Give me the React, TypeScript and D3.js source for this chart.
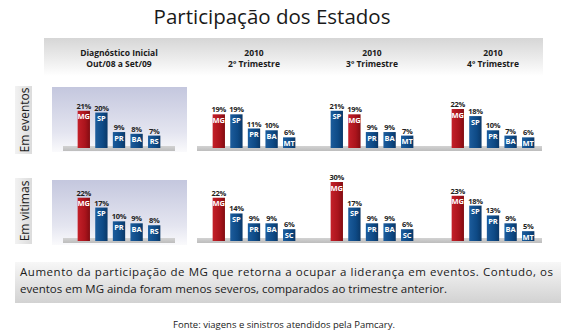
import React from "react";
import * as d3 from "d3";

const title = "Participação dos Estados";
const columnHeaders = [
  ["Diagnóstico Inicial", "Out/08 a Set/09"],
  ["2010", "2º Trimestre"],
  ["2010", "3º Trimestre"],
  ["2010", "4º Trimestre"],
];
const rowLabels = ["Em eventos", "Em vitimas"];

const eventosStates = [
  ["MG", "SP", "PR", "BA", "RS"],
  ["MG", "SP", "PR", "BA", "MT"],
  ["SP", "MG", "PR", "BA", "MT"],
  ["MG", "SP", "PR", "BA", "MT"],
];
const eventosValues = [
  [21, 20, 9, 8, 7],
  [19, 19, 11, 10, 6],
  [21, 19, 9, 9, 7],
  [22, 18, 10, 7, 6],
];
const vitimasStates = [
  ["MG", "SP", "PR", "BA", "RS"],
  ["MG", "SP", "PR", "BA", "SC"],
  ["MG", "SP", "PR", "BA", "SC"],
  ["MG", "SP", "PR", "BA", "MT"],
];
const vitimasValues = [
  [22, 17, 10, 9, 8],
  [22, 14, 9, 9, 6],
  [30, 17, 9, 9, 6],
  [23, 18, 13, 9, 5],
];
const highlightState = "MG";
const noteLines = [
  "Aumento da participação de MG que retorna a ocupar a liderança em eventos. Contudo, os",
  "eventos em MG ainda foram menos severos, comparados ao trimestre anterior.",
];
const sourceText = "Fonte: viagens e sinistros atendidos pela Pamcary.";

const W = 567;
const H = 336;
const FONT = "'Open Sans', 'Noto Sans', sans-serif";

const panelRanges: [number, number][] = [
  [75, 163],
  [210, 298],
  [328, 416],
  [449, 537],
];
const rows = [
  { states: eventosStates, values: eventosValues, base: 148, top: 109, floorY: 146, boxY: 87, boxH: 65, sideY: 86, sideH: 68, label: rowLabels[0] },
  { states: vitimasStates, values: vitimasValues, base: 241, top: 182, floorY: 238, boxY: 180, boxH: 65, sideY: 178, sideH: 66, label: rowLabels[1] },
];

export default function App() {
  return (
    <svg
      width={W}
      height={H}
      style={{ position: "absolute", left: 0, top: 0, background: "#fff" }}
      fontFamily={FONT}
    >
      <defs>
        <linearGradient id="hdr" x1="0" y1="0" x2="0" y2="1">
          <stop offset="0" stopColor="#d6d6d6" />
          <stop offset="0.55" stopColor="#ececec" />
          <stop offset="1" stopColor="#ffffff" />
        </linearGradient>
        <linearGradient id="lav" x1="0" y1="0" x2="0" y2="1">
          <stop offset="0" stopColor="#c4c7de" />
          <stop offset="0.7" stopColor="#e4e5f0" />
          <stop offset="1" stopColor="#fafafc" />
        </linearGradient>
        <linearGradient id="side" x1="0" y1="0" x2="1" y2="0">
          <stop offset="0" stopColor="#f2f2f2" />
          <stop offset="1" stopColor="#dcdcdc" />
        </linearGradient>
        <linearGradient id="note" x1="0" y1="0" x2="0" y2="1">
          <stop offset="0" stopColor="#f7f7f7" />
          <stop offset="1" stopColor="#d2d2d2" />
        </linearGradient>
        <linearGradient id="floor" x1="0" y1="0" x2="0" y2="1">
          <stop offset="0" stopColor="#d2d2d2" />
          <stop offset="1" stopColor="#bdbdbd" />
        </linearGradient>
        <linearGradient id="red" x1="0" y1="0" x2="1" y2="0">
          <stop offset="0" stopColor="#c42029" />
          <stop offset="0.6" stopColor="#aa141c" />
          <stop offset="1" stopColor="#820c12" />
        </linearGradient>
        <linearGradient id="blue" x1="0" y1="0" x2="1" y2="0">
          <stop offset="0" stopColor="#1c5c9c" />
          <stop offset="0.6" stopColor="#0e4a86" />
          <stop offset="1" stopColor="#0a3868" />
        </linearGradient>
      </defs>

      <text x={272} y={24} textAnchor="middle" fontSize={20.5} fill="#1a1a1a">
        {title}
      </text>

      <rect x={44} y={38} width={499} height={38} fill="url(#hdr)" />
      {columnHeaders.map((lines, i) => {
        const cx = (panelRanges[i][0] + panelRanges[i][1]) / 2;
        return (
          <g key={i}>
            <text x={cx} y={56} textAnchor="middle" fontSize={8.5} fontWeight="bold" fill="#1a1a1a">
              {lines[0]}
            </text>
            <text x={cx} y={67} textAnchor="middle" fontSize={8.5} fontWeight="bold" fill="#1a1a1a">
              {lines[1]}
            </text>
          </g>
        );
      })}

      {rows.map((row, ri) => {
        const maxV = d3.max(row.values.flat()) as number;
        const y = d3.scaleLinear().domain([0, maxV]).range([row.base, row.top]);
        return (
          <g key={ri}>
            <rect x={15} y={row.sideY} width={17} height={row.sideH} fill="url(#side)" />
            <text
              transform={`translate(28.5,${row.sideY + row.sideH / 2}) rotate(-90)`}
              textAnchor="middle"
              fontSize={12}
              fill="#1a1a1a"
            >
              {row.label}
            </text>
            <rect x={52} y={row.boxY} width={135} height={row.boxH} fill="url(#lav)" />
            <rect x={63} y={row.floorY} width={112} height={5} fill="url(#floor)" />
            <rect x={197} y={row.floorY} width={345} height={5} fill="url(#floor)" />
            {row.values.map((vals, pi) => {
              const x = d3
                .scaleBand<number>()
                .domain(d3.range(vals.length))
                .range(panelRanges[pi])
                .paddingInner(0.3)
                .paddingOuter(0.15);
              return (
                <g key={pi}>
                  {vals.map((v, k) => {
                    const st = row.states[pi][k];
                    const bx = x(k) as number;
                    const bw = x.bandwidth();
                    const top = y(v);
                    return (
                      <g key={k}>
                        <rect
                          x={bx}
                          y={top}
                          width={bw}
                          height={y(0) - top}
                          fill={st === highlightState ? "url(#red)" : "url(#blue)"}
                        />
                        <text x={bx + bw / 2} y={top + 8.5} textAnchor="middle" fontSize={7.5} fontWeight="bold" fill="#fff">
                          {st}
                        </text>
                        <text x={bx + bw / 2} y={top - 2} textAnchor="middle" fontSize={7.5} fontWeight="bold" fill="#222" letterSpacing={-0.3}>
                          {`${v}%`}
                        </text>
                      </g>
                    );
                  })}
                </g>
              );
            })}
          </g>
        );
      })}

      <rect x={15} y={262} width={546} height={41} fill="url(#note)" />
      <text x={20} y={276} fontSize={11.5} fill="#1a1a1a" textLength={533} lengthAdjust="spacing">
        {noteLines[0]}
      </text>
      <text x={20} y={293} fontSize={11.5} fill="#1a1a1a">
        {noteLines[1]}
      </text>

      <text x={284} y={328} textAnchor="middle" fontSize={9.5} fill="#1a1a1a">
        {sourceText}
      </text>
    </svg>
  );
}
